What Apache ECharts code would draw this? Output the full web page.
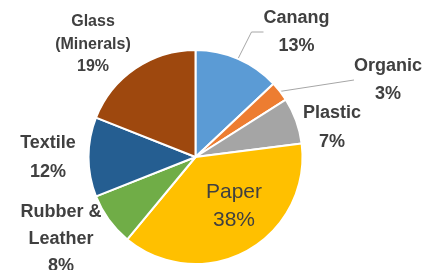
<!DOCTYPE html>
<html><head><meta charset="utf-8">
<script src="https://cdn.jsdelivr.net/npm/echarts@6/dist/echarts.min.js"></script>
<style>html,body{margin:0;padding:0;background:#fff}#c{width:430px;height:270px}</style>
</head><body><div id="c"></div>
<script>
// Data
const categories = ['Canang', 'Organic', 'Plastic', 'Paper', 'Rubber &\nLeather', 'Textile', 'Glass\n(Minerals)'];
const values = [13, 3, 7, 38, 8, 12, 19];

// Styles
const colors = ['#5B9BD5', '#ED7D31', '#A5A5A5', '#FFC000', '#70AD47', '#255E91', '#9E480E'];
// label placement (x, y of label box centre), line visibility, extra top padding for leader anchor
const labelPos = [
  {x: 296.5, y: 32, pad: 14, line: true},
  {x: 388, y: 80, pad: 18, line: true},
  {x: 332, y: 127.5, pad: 0, line: false},
  {x: 234, y: 206, pad: 0, line: false},
  {x: 61, y: 239.5, pad: 0, line: false},
  {x: 48, y: 157.5, pad: 0, line: false},
  {x: 93, y: 44.5, pad: 0, line: false}
];

const chart = echarts.init(document.getElementById('c'), null, {renderer: 'canvas'});
const data = categories.map((name, i) => {
  const p = labelPos[i];
  let label = {
    fontFamily: 'Liberation Sans', fontWeight: 'bold', fontSize: 18,
    lineHeight: 28.5, color: '#404040', padding: [p.pad, 0, 0, 0], align: 'center'
  };
  if (i === 3) label = Object.assign(label, {fontWeight: 'normal', fontSize: 21, lineHeight: 28.5});
  if (i === 4) label.lineHeight = 27;
  if (i === 6) label = Object.assign(label, {fontSize: 16, lineHeight: 22.5});
  return {
    name, value: values[i],
    itemStyle: {color: colors[i]},
    label,
    labelLine: {show: p.line, length: 29, length2: i === 1 ? 0 : 12, lineStyle: {color: '#A6A6A6', width: 1}}
  };
});

chart.setOption({
  animation: false,
  series: [{
    type: 'pie',
    center: [195.5, 157],
    radius: 107,
    startAngle: 90,
    clockwise: true,
    avoidLabelOverlap: false,
    itemStyle: {borderColor: '#ffffff', borderWidth: 2},
    label: {show: true, position: 'outside', formatter: '{b}\n{d}%'},
    labelLine: {show: true},
    labelLayout: function (params) {
      const p = labelPos[params.dataIndex];
      return {x: p.x, y: p.y, align: 'center', verticalAlign: 'middle'};
    },
    data
  }]
});
</script></body></html>
